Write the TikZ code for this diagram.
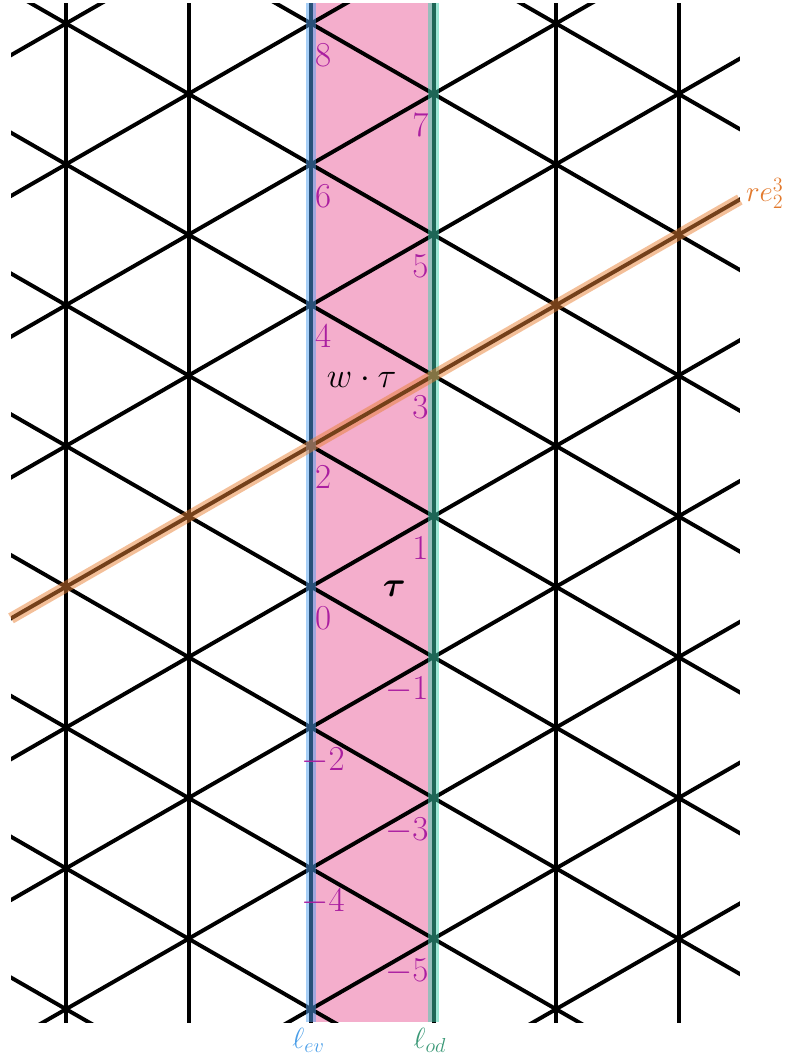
\documentclass[tikz,border=0pt]{standalone}
\usepackage{bm}

\definecolor{bandpink}{RGB}{244,174,204}
\definecolor{evglow}{RGB}{80,160,240}
\definecolor{odglow}{RGB}{60,205,172}
\definecolor{reglow}{RGB}{232,128,52}
\definecolor{evtext}{RGB}{74,158,232}
\definecolor{odtext}{RGB}{58,152,118}
\definecolor{retext}{RGB}{226,122,46}
\definecolor{idxpurple}{RGB}{170,30,160}

\begin{document}
\begin{tikzpicture}[x=3.0625cm, y=1.76cm,
  lattice/.style={line width=2.8pt, black},
  glow/.style={line width=7.5pt, opacity=0.5},
  idx/.style={text=idxpurple, inner sep=0pt, font=\fontsize{23}{25}\selectfont},
  linelabel/.style={inner sep=0pt, font=\fontsize{20}{22}\selectfont}
]
  \useasboundingbox (-2.539,-6.708) rectangle (3.886,8.334);

  % Strip between the two walls
  \fill[bandpink] (0,-6.184) rectangle (1,8.287);

  % Triangular lattice
  \begin{scope}
    \clip (-2.449,-6.184) rectangle (3.50,8.287);
    \foreach \i in {-2,...,3} {
      \draw[lattice] (\i,-7) -- (\i,9);
    }
    \foreach \c in {-12,-10,...,14} {
      \draw[lattice] (-3,-3+\c) -- (4,4+\c);
      \draw[lattice] (-3,3+\c) -- (4,-4+\c);
    }
  \end{scope}

  % Walls
  \draw[glow, evglow] (0,-6.184) -- (0,8.287);
  \draw[glow, odglow] (1,-6.184) -- (1,8.287);

  % Reflection line through 2 and 3
  \coordinate (rs) at (-2.449,-0.449);
  \coordinate (rt) at (3.50,5.50);
  \draw[glow, reglow, line width=8pt] (rs) -- (rt);

  % Vertex numbers
  \foreach \n in {-4,-2,...,8} {
    \coordinate (v\n) at (0,\n);
    \node[idx, anchor=north, xshift=0.3cm, yshift=-0.5cm] (n\n) at (v\n) {$\n$};
  }
  \foreach \n in {-5,-3,...,7} {
    \coordinate (v\n) at (1,\n);
    \node[idx, anchor=north east, xshift=-0.12cm, yshift=-0.5cm] (n\n) at (v\n) {$\n$};
  }

  % Cells
  \node[font=\fontsize{26}{28}\selectfont] (wtau) at (0.413,2.94) {$w\cdot\tau$};
  \node[font=\fontsize{35}{38}\selectfont] (tau) at (0.68,-0.03) {$\bm{\tau}$};

  % Line names
  \node[linelabel, text=evtext] (lev) at (-0.02,-6.44) {$\ell_{ev}$};
  \node[linelabel, text=odtext] (lod) at (0.97,-6.44) {$\ell_{od}$};
  \node[linelabel, text=retext, anchor=west, xshift=0.15cm, yshift=0.15cm,
        font=\fontsize{22}{24}\selectfont] (re) at (rt) {$re_2^3$};
\end{tikzpicture}
\end{document}
